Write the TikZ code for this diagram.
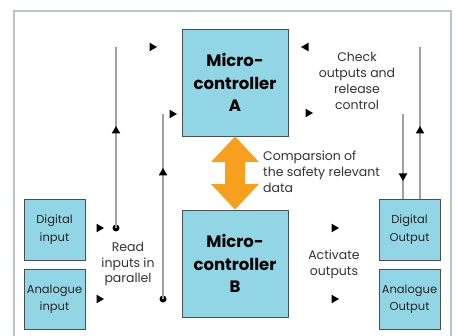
\documentclass[tikz,border=0pt]{standalone}
\usepackage{fontspec}
\setmainfont{Poppins}
\usetikzlibrary{shapes.geometric,calc}
\definecolor{boxblue}{RGB}{146,214,230}
\definecolor{boxedge}{RGB}{70,80,85}
\definecolor{arrorange}{RGB}{247,160,32}
\definecolor{linegray}{RGB}{160,160,160}
\definecolor{framegray}{RGB}{190,195,195}
\tikzset{
  mcbox/.style={draw=boxedge, line width=0.9pt, fill=boxblue, minimum width=106pt, minimum height=107pt, inner sep=0pt, align=center, font=\fontsize{16.5}{22.5}\selectfont\bfseries},
  iobox/.style={draw=boxedge, line width=0.9pt, fill=boxblue, minimum width=61pt, minimum height=60pt, inner sep=0pt, align=center, font=\fontsize{11.5}{17.5}\selectfont, text=black!85},
  lbl/.style={align=center, inner sep=0pt, font=\fontsize{12.5}{16}\selectfont, text=black!80},
  mk/.style={isosceles triangle, isosceles triangle apex angle=60, fill=black, inner sep=0pt, minimum height=7.5pt, minimum width=8pt},
  sig/.style={draw=linegray, line width=1.3pt},
  dot/.style={circle, fill=black, inner sep=0pt, minimum size=7pt},
}
\begin{document}
\begin{tikzpicture}[x=1pt,y=-1pt]
\useasboundingbox (0,0) rectangle (457,336);
\fill[white] (0,0) rectangle (457,336);
% frame
\draw[framegray, line width=1.3pt] (14,336) -- (14,11) -- (451,11) -- (451,336);
% boxes
\node[mcbox] (A) at (235,82.5) {Micro-\\controller\\A};
\node[mcbox] (B) at (235,263.5) {Micro-\\controller\\B};
\node[iobox, minimum height=61pt] (DI) at (54.5,229.5) {Digital\\input};
\node[iobox] (AI) at (54.5,299) {Analogue\\input};
\node[iobox, minimum height=61pt] (DO) at (409.5,229.5) {Digital\\Output};
\node[iobox] (AO) at (409.5,299) {Analogue\\Output};
% orange double arrow
\fill[arrorange] (A.south) -- ++(24,25.5) -- ++(-14,0) -- ++(0,22) -- ++(14,0)
  -- (B.north) -- ++(-24,-25.5) -- ++(14,0) -- ++(0,-22) -- ++(-14,0) -- cycle;
% input side lines
\coordinate (L1top) at (116,47);
\coordinate (L2top) at (163,114);
\node[dot] (d1) at (116,228) {};
\node[dot] (d2) at (163,299) {};
\draw[sig] (d1.center) -- (L1top);
\draw[sig] (d2.center) -- (L2top);
\node[mk, shape border rotate=90] (u1) at (116,131) {};
\node[mk, shape border rotate=90] (u2) at (163,173) {};
\node[mk] (r1) at (152,47) {};
\node[mk] (r2) at (172,114) {};
\node[mk] (r3) at (99,228) {};
\node[mk] (r4) at (99,299) {};
% output side lines
\coordinate (R1top) at (420,47);
\coordinate (R2top) at (403,114);
\draw[sig] (DO.north -| R1top) -- (R1top);
\draw[sig] (R2top) -- (DO.north -| R2top);
\node[mk, shape border rotate=90] (u3) at (420,131) {};
\node[mk, shape border rotate=270] (dn1) at (403,176) {};
\node[mk, shape border rotate=180] (l1) at (306,47) {};
\node[mk] (r5) at (308,113) {};
\node[mk] (r6) at (334,228) {};
\node[mk] (r7) at (334,299) {};
% labels
\node[lbl] (check) at (357,81) {Check\\outputs and\\release\\control};
\node[lbl, align=left, anchor=west] (cmp) at (263,172) {Comparsion of\\the safety relevant\\data};
\node[lbl] (read) at (128,264) {Read\\inputs in\\parallel};
\node[lbl] (act) at (334,264) {Activate\\outputs};
\end{tikzpicture}
\end{document}
